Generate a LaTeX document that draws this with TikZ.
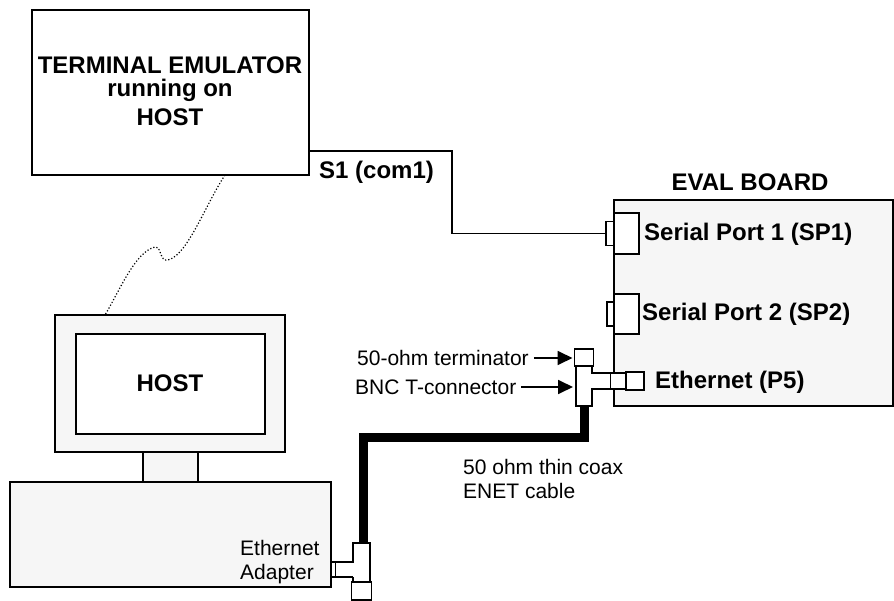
\documentclass[tikz,border=0pt]{standalone}
\usepackage{fontspec}
\setmainfont{Liberation Sans}
\usetikzlibrary{arrows.meta, positioning}
\definecolor{panelgray}{HTML}{F6F6F6}

\begin{document}
\begin{tikzpicture}[
  x=1pt, y=-1pt, >=Stealth,
  box/.style={draw, line width=1.8pt, inner sep=0pt, outer sep=0pt, fill=white},
  panel/.style={box, fill=panelgray},
  boldlab/.style={font=\fontsize{24}{28}\selectfont\bfseries, inner sep=0pt},
  lab/.style={font=\fontsize{21}{24}\selectfont, inner sep=0pt},
  pointer/.style={-{Triangle[length=15pt, width=14pt]}, line width=1.8pt}
]
\useasboundingbox (0,0) rectangle (894,601);
% host side
\node[box, minimum width=277pt, minimum height=165pt] (term) at (170.5,92.5) {};
\node[panel, minimum width=230pt, minimum height=137pt] (monitor) at (170,383.5) {};
\node[box, minimum width=189pt, minimum height=100pt] (screen) at (170.5,384) {};
\node[panel, minimum width=55pt, minimum height=30pt, below=0pt of monitor.south, xshift=0.5pt] (neck) {};
\node[panel, minimum width=321pt, minimum height=105pt, anchor=north west] (base) at (10,482) {};
\node[boldlab] (termA) at (170,65) {TERMINAL EMULATOR};
\node[boldlab] (termB) at (170,90) {running on};
\node[boldlab] (termC) at (170,117) {HOST};
\node[boldlab] (hostlab) at (170,383) {HOST};
\node[lab, align=left, anchor=west] (adapter) at (240,562) {Ethernet\\Adapter};
% eval board
\node[panel, minimum width=279pt, minimum height=206pt, anchor=north west] (board) at (614,200) {};
\node[boldlab] (boardlab) at (750,182) {EVAL BOARD};
\node[box, minimum width=25pt, minimum height=41pt, anchor=north west] (sp1) at (614,213) {};
\node[box, minimum width=8pt, minimum height=24pt, left=0pt of sp1] (sp1a) {};
\node[box, minimum width=25pt, minimum height=40pt, anchor=north west] (sp2) at (614,294) {};
\node[box, minimum width=7pt, minimum height=24pt, left=0pt of sp2] (sp2a) {};
\node[boldlab, anchor=west] (sp1lab) at (644,234) {Serial Port 1 (SP1)};
\node[boldlab, anchor=west] (sp2lab) at (642,314) {Serial Port 2 (SP2)};
\node[boldlab, anchor=west] (enetlab) at (655,382) {Ethernet (P5)};
\node[box, minimum width=16pt, minimum height=16pt, anchor=north west] (enetA) at (610,373) {};
\node[box, minimum width=18pt, minimum height=18pt, anchor=north west] (enet) at (626,372) {};
% T connector at the board
\node[box, minimum width=16pt, minimum height=40pt, anchor=north west] (tee) at (576,366) {};
\node[box, draw=none, minimum width=19pt, minimum height=14pt, anchor=north west] (teeB) at (591,374) {};
\draw[line width=1.8pt] (tee.east |- 0,373) -- (enetA.west |- 0,373) (tee.east |- 0,389) -- (enetA.west |- 0,389);
\node[box, minimum width=19pt, minimum height=17pt, above=0pt of tee] (termr) {};
% T connector at the host
\node[box, minimum width=5pt, minimum height=15pt, anchor=north west] (plug) at (331,562) {};
\node[box, minimum width=17pt, minimum height=39pt, anchor=north west] (teeH) at (353,543) {};
\node[box, draw=none, minimum width=19pt, minimum height=14pt, anchor=north west] (teeI) at (336,563) {};
\draw[line width=1.8pt] (plug.east |- 0,562) -- (teeH.west |- 0,562) (plug.east |- 0,577) -- (teeH.west |- 0,577);
\node[box, minimum width=20pt, minimum height=18pt, below=0pt of teeH] (termH) {};
% connections
\coordinate (s1) at (term.east |- 0,151);
\coordinate (bend) at (452,151);
\draw[line width=1.8pt] (s1) -- (bend) |- (sp1a.west);
\node[boldlab, anchor=west] (s1lab) at (319,172) {S1 (com1)};
\coordinate (linkA) at (term.south -| 225,0);
\coordinate (linkB) at (monitor.north -| 105,0);
\draw[line width=1.2pt, dotted] (linkA) .. controls (205,205) and (185,262) .. (165,260)
  .. controls (160,258) and (160,245) .. (155,247) .. controls (135,252) and (120,290) .. (linkB);
\coordinate (coaxA) at (363.5,437.5);
\draw[line width=9pt] (tee.south -| 584.5,0) -- (584.5,437.5) -- (coaxA) -- (coaxA |- teeH.north);
\node[lab, align=left, anchor=west] (coaxlab) at (463,479) {50 ohm thin coax\\ENET cable};
% labels with arrows
\node[lab, anchor=west] (termlab) at (357,358) {50-ohm terminator};
\node[lab, anchor=west] (bnclab) at (355,387) {BNC T-connector};
\draw[pointer, shorten >=2pt] ([xshift=5pt]termlab.east) -- (termlab.east -| termr.west);
\draw[pointer, shorten >=3pt] ([xshift=5pt]bnclab.east) -- (bnclab.east -| tee.west);
\end{tikzpicture}
\end{document}
